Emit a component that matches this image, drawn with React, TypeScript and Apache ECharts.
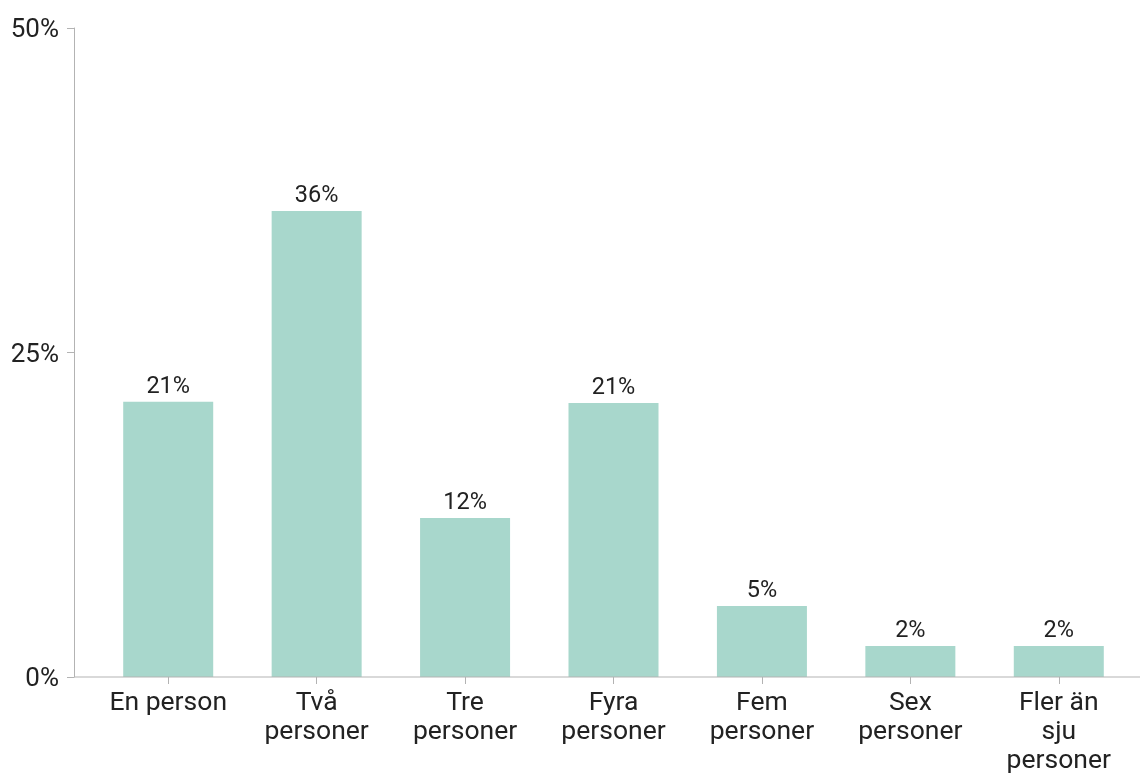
import React, { useEffect, useRef } from "react";
import * as echarts from "echarts";

const categories = [
  "En person",
  "Två\npersoner",
  "Tre\npersoner",
  "Fyra\npersoner",
  "Fem\npersoner",
  "Sex\npersoner",
  "Fler än\nsju\npersoner",
];
const values = [21.2, 35.9, 12.25, 21.1, 5.47, 2.39, 2.39];
const yTicks = { min: 0, max: 50, interval: 25 };

export default function App() {
  const ref = useRef<HTMLDivElement>(null);
  useEffect(() => {
    if (!ref.current) return;
    const chart = echarts.init(ref.current, null, { renderer: "svg" });
    const axisColor = "#b3b3b3";
    chart.setOption({
      animation: false,
      textStyle: { fontFamily: "Roboto" },
      grid: {
        left: 94,
        right: 7,
        top: 28,
        bottom: 97,
        containLabel: false,
        outerBoundsMode: "none",
      },
      xAxis: {
        type: "category",
        data: categories,
        axisLine: { show: false },
        axisTick: { show: true, alignWithLabel: true, length: 7, lineStyle: { color: axisColor } },
        axisLabel: {
          color: "#222",
          fontSize: 26.5,
          lineHeight: 29,
          margin: 9,
          interval: 0,
          fontFamily: "Roboto",
        },
      },
      yAxis: {
        type: "value",
        min: yTicks.min,
        max: yTicks.max,
        interval: yTicks.interval,
        offset: 20,
        axisLine: { show: true, lineStyle: { color: axisColor } },
        axisTick: { show: true, length: 7, lineStyle: { color: axisColor } },
        splitLine: { show: false },
        axisLabel: {
          formatter: "{value}%",
          color: "#222",
          fontSize: 26,
          margin: 15,
          fontFamily: "Roboto",
        },
      },
      graphic: [
        {
          type: "line",
          shape: { x1: 74, y1: 677, x2: 1140, y2: 677 },
          style: { stroke: axisColor, lineWidth: 1 },
          z: 10,
        },
      ],
      series: [
        {
          type: "bar",
          data: values,
          barWidth: 90,
          itemStyle: { color: "#a8d7cc" },
          label: {
            show: true,
            position: "top",
            distance: 5,
            color: "#222",
            fontSize: 23.5,
            fontFamily: "Roboto",
            formatter: (p: any) => Math.round(p.value) + "%",
          },
        },
      ],
    });
    return () => chart.dispose();
  }, []);
  return (
    <div
      ref={ref}
      style={{ position: "fixed", left: 0, top: 0, width: 1140, height: 774 }}
    />
  );
}
